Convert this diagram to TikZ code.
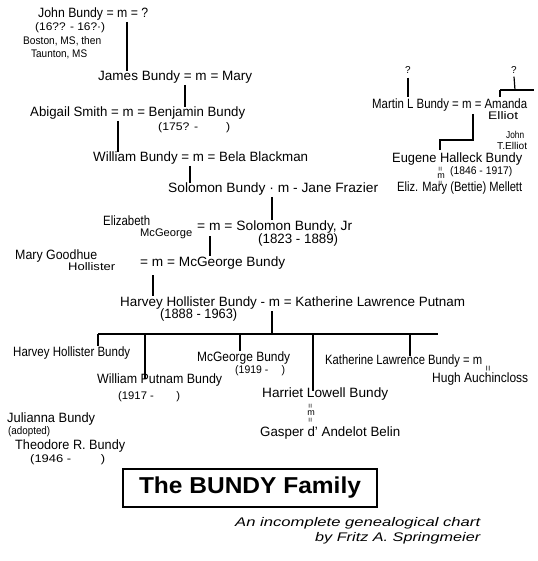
\documentclass[tikz,border=0pt]{standalone}
\usepackage{fontspec}
\setmainfont{Liberation Sans}
\usepackage{graphicx}
\newsavebox\hwbox
\newcommand\hwtext[2]{\sbox\hwbox{#2}\pgfmathsetmacro\hwfac{#1/\the\wd\hwbox}\scalebox{\hwfac}[1]{\usebox\hwbox}}
\newcommand\vmarker{\shortstack{\rotatebox{90}{\footnotesize =}\\[-1pt]{\small m}\\[-1pt]\rotatebox{90}{\footnotesize =}}}
\begin{document}
\begin{tikzpicture}[x=1pt,y=-1pt,
  t/.style={anchor=base west,inner sep=0pt,font=\fontsize{13.5}{15}\selectfont},
  sm/.style={anchor=base west,inner sep=0pt,font=\fontsize{11}{12}\selectfont},
  ln/.style={line width=1.2pt},
  bar/.style={line width=1.9pt},
  mk/.style={inner sep=0pt}]
\useasboundingbox (0,0) rectangle (537,561);

% --- Bundy line, top to bottom
\node[t] (john) at (38,18) {\hwtext{110}{John Bundy = m = ?}};
\node[sm] (johnd) at (35,31) {\hwtext{70}{(16?? - 16?·)}};
\node[sm] (boston) at (23,45) {\hwtext{78}{Boston, MS, then}};
\node[sm] (taunton) at (31,58) {\hwtext{56}{Taunton, MS}};
\coordinate (jm) at (127,22);
\node[t] (james) at (98,81) {\hwtext{154}{James Bundy = m = Mary}};
\draw[ln] (jm) -- (jm |- james.north);

\coordinate (jam) at (185,85);
\node[t] (abigail) at (30,117) {\hwtext{215}{Abigail Smith = m = Benjamin Bundy}};
\draw[ln] (jam) -- (jam |- abigail.north);
\node[sm] (benjd) at (158,131) {\hwtext{72}{(175? -\qquad\ )}};

\coordinate (abm) at (118,121);
\node[t] (william) at (93,162) {\hwtext{215}{William Bundy = m = Bela Blackman}};
\draw[ln] (abm) -- (abm |- william.north);

\coordinate (wm) at (190,166);
\node[t] (solomon) at (168,193) {\hwtext{210}{Solomon Bundy · m - Jane Frazier}};
\draw[ln] (wm) -- (wm |- solomon.north);

\coordinate (sm1) at (272,197);
\node[t] (elizabeth) at (103,225) {\hwtext{47}{Elizabeth}};
\node[sm] (mcg1) at (140,236) {\hwtext{52}{McGeorge}};
\node[t] (soljr) at (197,230) {\hwtext{155}{= m = Solomon Bundy, Jr}};
\draw[ln] (sm1) -- (sm1 |- soljr.north);
\node[t] (soljrd) at (258,243) {\hwtext{80}{(1823 - 1889)}};

\coordinate (em) at (210,236);
\node[t] (mary) at (15,259) {\hwtext{82}{Mary Goodhue}};
\node[sm] (holl) at (68,270) {\hwtext{47}{Hollister}};
\node[t] (mcgeorge) at (140,266) {\hwtext{145}{= m = McGeorge Bundy}};
\draw[ln] (em) -- (em |- mcgeorge.north);

\coordinate (mm) at (153,275);
\node[t] (harvey) at (120,306) {\hwtext{345}{Harvey Hollister Bundy - m = Katherine Lawrence Putnam}};
\draw[ln] (mm) -- (mm |- harvey.north);
\node[t] (harveyd) at (160,318) {\hwtext{77}{(1888 - 1963)}};

% --- children of Harvey and Katherine
\coordinate (hm) at (272,311);
\coordinate (sib) at (272,334);
\coordinate (sibL) at (98,334);
\coordinate (sibR) at (438,334);
\coordinate (s1) at (145,334);
\coordinate (s2) at (240,334);
\coordinate (s3) at (313,334);
\coordinate (s4) at (410,334);
\draw[ln] (hm) -- (sib);
\draw[bar] (sibL) -- (sibR);

\node[t] (hhb) at (13,356) {\hwtext{117}{Harvey Hollister Bundy}};
\draw[ln] (sibL) -- (sibL |- hhb.north);
\node[t] (wpb) at (97,383) {\hwtext{125}{William Putnam Bundy}};
\draw[ln] (s1) -- ([yshift=-6pt]s1 |- wpb.north);
\node[sm] (wpbd) at (118,399) {\hwtext{62}{(1917 -\qquad )}};
\node[t] (mcb) at (197,361) {\hwtext{93}{McGeorge Bundy}};
\draw[ln] (s2) -- (s2 |- mcb.north);
\node[sm] (mcbd) at (235,373) {\hwtext{50}{(1919 -\quad\ )}};
\node[t] (harriet) at (262,397) {\hwtext{126}{Harriet Lowell Bundy}};
\draw[ln] (s3) -- ([yshift=-4pt]s3 |- harriet.north);
\node[t] (kath) at (325,364) {\hwtext{157}{Katherine Lawrence Bundy = m}};
\draw[ln] (s4) -- ([yshift=-2pt]s4 |- kath.north);
\node[mk,font=\normalsize] (ditto) at (489,369) {\rotatebox{90}{=}};
\node[t] (hugh) at (432,382) {\hwtext{96}{Hugh Auchincloss}};
\node[mk] (hmark) at (311,413) {\vmarker};
\node[t] (gasper) at (260,436) {\hwtext{140}{Gasper d' Andelot Belin}};

\node[t] (julianna) at (7,422) {\hwtext{88}{Julianna Bundy}};
\node[sm] (adopted) at (8,434) {\hwtext{42}{(adopted)}};
\node[t] (theodore) at (15,449) {\hwtext{110}{Theodore R. Bundy}};
\node[sm] (theod) at (30,462) {\hwtext{75}{(1946 -\qquad\ )}};

% --- right-hand branch
\node[mk,font=\fontsize{10}{11}\selectfont] (q1) at (408,70) {?};
\node[mk,font=\fontsize{10}{11}\selectfont] (q2) at (514,70) {?};
\node[t] (martin) at (372,109) {\hwtext{155}{Martin L Bundy = m = Amanda}};
\node[sm] (elliot) at (488,120) {\hwtext{30}{Elliot}};
\draw[ln] ([yshift=-4pt]q1.south) -- ([yshift=2pt]q1.south |- martin.north);
\coordinate (tee) at (515,90);
\coordinate (teeL) at (500,90);
\coordinate (teeR) at (534,90);
\draw[ln] ([yshift=-3pt]q2.south) -- (tee);
\draw[ln] (teeL) -- (teeR);
\draw[ln] (teeL) -- ([yshift=2pt]teeL |- martin.north);

\node[sm,font=\fontsize{10}{11}\selectfont] (jte1) at (506,139) {\hwtext{18}{John}};
\node[sm,font=\fontsize{10}{11}\selectfont] (jte2) at (497,150) {\hwtext{30}{T.Elliot}};
\node[t] (eugene) at (392,163) {\hwtext{130}{Eugene Halleck Bundy}};
\coordinate (mam) at (473,114);
\coordinate (mam2) at (473,140);
\coordinate (eug2) at (440,140);
\draw[ln] (mam) -- (mam2) -- (eug2) -- (eug2 |- 0,150);
\node[sm] (eugd) at (450,175) {\hwtext{62}{(1846 - 1917)}};
\node[mk] (eugm) at (441,176) {\vmarker};
\node[t] (eliz) at (397,192) {\hwtext{125}{Eliz. Mary (Bettie) Mellett}};

% --- title
\node[draw,line width=2.5pt,minimum width=254pt,minimum height=38pt,inner sep=0pt,
  font=\fontsize{23}{25}\selectfont\bfseries] (title) at (250,488) {\hwtext{222}{The BUNDY Family}};
\node[t,font=\fontsize{12.5}{14}\selectfont\itshape] (sub1) at (235,526) {\hwtext{245}{An incomplete genealogical chart}};
\node[t,font=\fontsize{12.5}{14}\selectfont\itshape] (sub2) at (315,541) {\hwtext{165}{by Fritz A. Springmeier}};
\end{tikzpicture}
\end{document}
